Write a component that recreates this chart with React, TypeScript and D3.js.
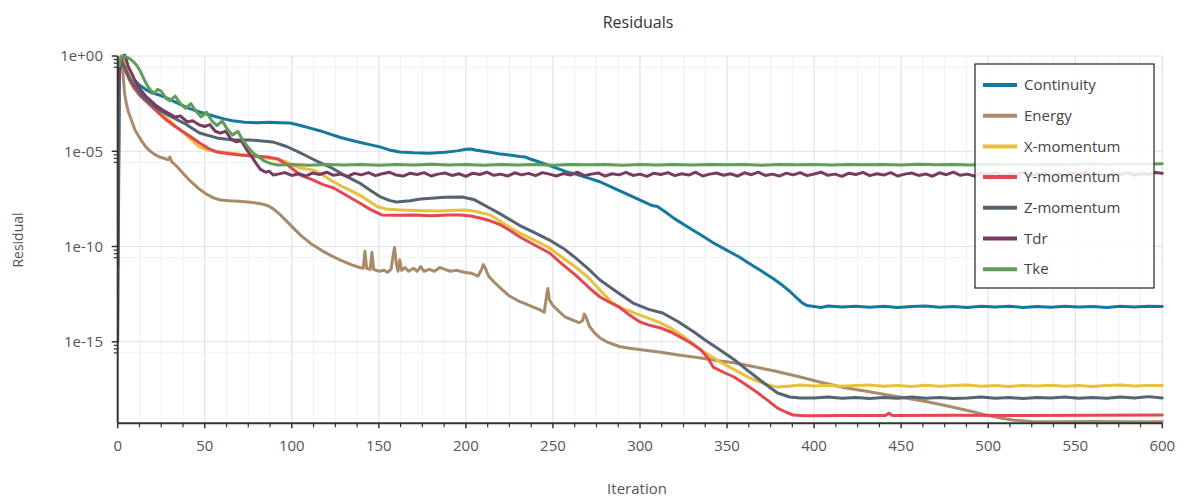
import React from 'react';
import * as d3 from 'd3';

type P = [number, number]; // [iteration, log10(residual)]

const W = 1192;
const H = 497;

const iterTicks = [0, 50, 100, 150, 200, 250, 300, 350, 400, 450, 500, 550, 600];
const iterMinorTicks = [12.5, 25, 37.5, 62.5, 75, 87.5, 112.5, 125, 137.5, 162.5, 175, 187.5, 212.5, 225, 237.5, 262.5, 275, 287.5, 312.5, 325, 337.5, 362.5, 375, 387.5, 412.5, 425, 437.5, 462.5, 475, 487.5, 512.5, 525, 537.5, 562.5, 575, 587.5];
const residualTicks = [1e0, 1e-5, 1e-10, 1e-15];
const residualTickLabels = ['1e+00', '1e-05', '1e-10', '1e-15'];
const residualMinorFactors = [0.65, 0.42, 0.26];

const seriesNames = ['Continuity', 'Energy', 'X-momentum', 'Y-momentum', 'Z-momentum', 'Tdr', 'Tke'];
const seriesColors = ['#15789f', '#a88b6b', '#e9bf3c', '#e1484f', '#566372', '#7a3b63', '#5f9d58'];

const continuity: P[] = [
  [0, -11.1], [1, -0.8], [2, 0], [3, -0.15], [5, -0.5], [7, -0.9], [9, -1.2], [12, -1.5], [16, -1.75], [20, -1.95], [24, -2.05], [28, -2.2], [35, -2.5], [41, -2.75], [47, -2.94], [55, -3.15], [61, -3.3], [66, -3.4], [73, -3.48], [80, -3.5], [87, -3.48], [93, -3.5], [99, -3.52], [105, -3.65], [111, -3.8], [116, -3.92], [122, -4.1], [128, -4.28], [133, -4.4], [140, -4.55], [146, -4.68], [151, -4.78], [156, -4.93], [162, -5.04], [170, -5.08], [179, -5.1], [188, -5.05], [195, -4.98], [200, -4.9], [203, -4.88], [206, -4.95], [210, -5.0], [214, -5.05], [220, -5.15], [225, -5.2], [231, -5.28], [234, -5.3], [236, -5.38], [240, -5.5], [245, -5.65], [250, -5.82], [254, -5.95], [258, -6.08], [263, -6.2], [270, -6.4], [277, -6.6], [284, -6.9], [290, -7.15], [296, -7.4], [302, -7.65], [307, -7.85], [310, -7.9], [314, -8.15], [320, -8.55], [327, -8.95], [335, -9.4], [342, -9.8], [350, -10.2], [357, -10.55], [363, -10.9], [370, -11.3], [376, -11.65], [382, -12.05], [386, -12.35], [390, -12.7], [393, -12.95], [396, -13.1], [400, -13.15], [404, -13.2], [408, -13.12],
  [416, -13.18], [424, -13.13], [432, -13.19], [440, -13.14], [448, -13.2], [456, -13.15], [464, -13.12], [472, -13.19], [480, -13.15], [488, -13.2], [496, -13.14], [504, -13.17], [512, -13.13], [520, -13.2], [528, -13.15], [536, -13.19], [544, -13.13], [552, -13.18], [560, -13.15], [568, -13.2], [576, -13.14], [584, -13.17], [592, -13.13], [600, -13.15],
];

const energy: P[] = [
  [1, -0.2], [2, -0.1], [3, -0.9], [4, -2.0], [5, -2.5], [6, -2.9], [8, -3.4], [10, -3.9], [12, -4.2], [14, -4.5], [16, -4.75], [18, -4.95], [21, -5.15], [24, -5.3], [27, -5.38], [29, -5.45], [30, -5.3], [31, -5.55], [34, -5.8], [37, -6.1], [41, -6.5], [44, -6.75], [47, -7.0], [51, -7.25], [55, -7.45], [59, -7.56], [64, -7.6], [70, -7.62], [76, -7.68], [82, -7.75], [86, -7.85], [89, -8.0], [93, -8.3], [99, -8.85], [105, -9.4], [111, -9.85], [117, -10.2], [122, -10.45], [128, -10.72], [134, -10.95], [139, -11.1], [141, -11.15], [142, -10.25], [143, -11.15], [145, -11.2], [146, -10.3], [147, -11.2], [150, -11.3], [153, -11.25], [155, -11.35], [157, -11.2], [158, -10.6], [159, -10.05], [160, -10.9], [161, -11.3], [162, -10.7], [163, -11.25], [165, -11.1], [167, -11.3], [170, -11.15], [172, -11.3], [174, -11.05], [176, -11.3], [179, -11.2], [182, -11.3], [185, -11.1], [188, -11.2], [191, -11.3], [195, -11.25], [199, -11.35], [203, -11.4], [207, -11.55], [209, -11.2], [210, -10.95], [211, -11.1], [213, -11.55], [216, -11.85], [220, -12.2], [225, -12.6], [230, -12.85], [234, -13.0], [238, -13.15], [242, -13.3], [245, -13.45], [246, -12.8], [247, -12.2], [248, -12.8], [250, -13.1], [254, -13.45], [257, -13.7], [261, -13.85], [265, -14.0], [267, -13.9], [268, -13.55], [269, -13.7], [271, -14.2], [274, -14.55], [277, -14.8], [282, -15.05], [288, -15.25], [295, -15.35], [303, -15.45], [312, -15.55], [322, -15.7], [335, -15.85], [345, -16.0], [354, -16.1], [365, -16.3], [378, -16.55], [392, -16.85], [405, -17.15], [417, -17.4], [430, -17.6], [449, -17.9], [465, -18.15], [478, -18.4], [490, -18.65], [499, -18.85], [507, -19.0], [515, -19.12], [525, -19.18], [540, -19.2], [560, -19.18], [580, -19.2], [600, -19.2],
];

const xMomentum: P[] = [
  [1, -0.2], [2, 0], [3, -0.2], [5, -0.6], [7, -1.0], [10, -1.45], [14, -1.95], [18, -2.4], [23, -2.85], [28, -3.25], [33, -3.65], [38, -4.05], [43, -4.45], [47, -4.78], [52, -4.95], [58, -5.02], [66, -5.1], [75, -5.22], [86, -5.35], [93, -5.45], [97, -5.56], [101, -5.75], [105, -5.88], [112, -5.98], [117, -6.2], [122, -6.5], [130, -6.9], [139, -7.3], [144, -7.6], [149, -7.9], [155, -8.05], [162, -8.08], [175, -8.12], [185, -8.14], [193, -8.1], [200, -8.08], [205, -8.15], [210, -8.25], [214, -8.35], [220, -8.7], [225, -8.98], [231, -9.3], [240, -9.7], [248, -10.08], [255, -10.55], [263, -11.08], [270, -11.6], [277, -12.28], [284, -12.95], [290, -13.25], [300, -13.6], [306, -13.8], [312, -14.02], [318, -14.3], [323, -14.6], [329, -15.0], [335, -15.43], [346, -16.06], [355, -16.5], [363, -16.9], [371, -17.2], [379, -17.38], [385, -17.33], [392, -17.27],
  [400, -17.32], [408, -17.28], [416, -17.34], [424, -17.3], [432, -17.27], [440, -17.33], [448, -17.3], [456, -17.35], [464, -17.28], [472, -17.33], [480, -17.3], [488, -17.27], [496, -17.33], [504, -17.3], [512, -17.35], [520, -17.29], [528, -17.32], [536, -17.28], [544, -17.33], [552, -17.3], [560, -17.35], [568, -17.3], [576, -17.27], [584, -17.32], [592, -17.3], [600, -17.3],
];

const yMomentum: P[] = [
  [1, -0.3], [2, -0.1], [3, -0.4], [5, -0.9], [7, -1.3], [9, -1.63], [13, -2.1], [18.5, -2.57], [23, -2.95], [28, -3.36], [33, -3.7], [38, -4.0], [43, -4.3], [47, -4.57], [52, -4.85], [57, -5.04], [63, -5.12], [70, -5.2], [78, -5.25], [86, -5.3], [92, -5.4], [98, -5.75], [105, -6.25], [112, -6.5], [118, -6.75], [124, -6.93], [131, -7.3], [139, -7.72], [145, -8.05], [152, -8.35], [160, -8.36], [170, -8.35], [180, -8.38], [190, -8.35], [197, -8.35], [203, -8.4], [208, -8.5], [214, -8.65], [220, -8.87], [226, -9.2], [231, -9.5], [240, -9.95], [248, -10.34], [255, -10.9], [263, -11.5], [270, -12.1], [277, -12.65], [282, -12.9], [288, -13.18], [294, -13.6], [300, -13.96], [306, -14.15], [312, -14.28], [318, -14.5], [323, -14.75], [329, -15.05], [335, -15.43], [339, -15.85], [342, -16.33], [348, -16.6], [354, -16.85], [360, -17.2], [367, -17.64], [373, -18.05], [379, -18.48], [384, -18.7], [388, -18.85], [395, -18.88],
  [420, -18.87], [441, -18.87], [443, -18.75], [445, -18.87], [480, -18.86], [520, -18.87], [560, -18.86], [600, -18.85],
];

const zMomentum: P[] = [
  [0, -15.0], [1, -0.4], [2, -0.2], [4, -0.6], [7, -1.2], [10, -1.6], [14, -2.1], [18.5, -2.47], [25, -2.9], [31, -3.2], [38, -3.52], [47, -4.04], [57, -4.3], [66, -4.41], [76, -4.41], [89, -4.51], [97, -4.75], [105, -5.09], [114, -5.5], [122, -5.83], [130, -6.25], [139, -6.67], [145, -7.05], [151, -7.4], [156, -7.58], [160, -7.66], [168, -7.6], [174, -7.51], [188, -7.42], [198, -7.4], [205, -7.55], [212, -7.9], [220, -8.3], [231, -8.9], [240, -9.3], [248, -9.66], [256, -10.1], [263, -10.6], [270, -11.15], [277, -11.76], [287, -12.4], [296, -12.97], [305, -13.3], [313, -13.49], [322, -13.95], [331, -14.49], [338, -14.95], [346, -15.43], [355, -16.0], [363, -16.59], [371, -17.15], [379, -17.69], [386, -17.9], [392, -17.95],
  [400, -17.95], [408, -17.9], [416, -17.97], [424, -17.93], [432, -17.98], [440, -17.92], [448, -17.96], [456, -17.9], [464, -17.97], [472, -17.93], [480, -17.98], [488, -17.95], [496, -17.9], [504, -17.96], [512, -17.93], [520, -17.98], [528, -17.92], [536, -17.95], [544, -17.9], [552, -17.97], [560, -17.93], [568, -17.96], [576, -17.9], [584, -17.95], [592, -17.88], [600, -17.95],
];

const tdr: P[] = [
  [0, -2.3], [1, -0.8], [2, -0.2], [3, 0.0], [4, 0.05], [5, -0.2], [6, -0.55], [8, -0.9], [10, -1.3], [13, -1.75], [16, -2.1], [18.5, -2.3], [22, -2.6], [26, -2.85], [30, -3.05], [33, -3.2], [36, -3.15], [40, -3.46], [43, -3.4], [47, -3.62], [50, -3.7], [53, -3.6], [56, -3.95], [59, -4.05], [62, -3.95], [65, -4.35], [68, -4.5], [71, -4.45], [74, -4.9], [77, -5.3], [80, -5.7], [82, -5.95], [85, -6.1], [87, -6.05], [89.5, -6.25],
  [92, -6.2], [96, -6.12], [100, -6.27], [104, -6.18], [108, -6.3], [112, -6.14], [116, -6.22], [120, -6.1], [124, -6.26], [128, -6.2], [132, -6.32], [136, -6.16], [140, -6.24], [144, -6.12], [148, -6.28], [152, -6.18], [156, -6.1], [160, -6.25], [164, -6.3], [168, -6.15], [172, -6.22], [176, -6.12], [180, -6.3], [184, -6.2], [188, -6.14], [192, -6.27], [196, -6.18], [200, -6.32], [204, -6.15], [208, -6.22], [212, -6.1], [216, -6.26], [220, -6.2], [224, -6.3], [228, -6.13], [232, -6.24], [236, -6.16], [240, -6.28], [244, -6.12], [248, -6.2], [252, -6.3], [256, -6.17], [260, -6.25], [264, -6.1], [268, -6.28], [272, -6.2], [276, -6.14], [280, -6.3], [284, -6.18], [288, -6.24], [292, -6.11], [296, -6.27], [300, -6.2], [304, -6.32], [308, -6.15], [312, -6.22], [316, -6.12], [320, -6.28], [324, -6.18], [328, -6.25], [332, -6.1], [336, -6.3], [340, -6.2], [344, -6.14], [348, -6.26], [352, -6.18], [356, -6.31], [360, -6.13], [364, -6.23], [368, -6.1], [372, -6.27], [376, -6.2], [380, -6.3], [384, -6.15], [388, -6.24], [392, -6.12], [396, -6.28], [400, -6.19], [404, -6.1], [408, -6.26], [412, -6.2], [416, -6.32], [420, -6.15], [424, -6.22], [428, -6.11], [432, -6.28], [436, -6.18], [440, -6.25], [444, -6.12], [448, -6.3], [452, -6.2], [456, -6.14], [460, -6.27], [464, -6.19], [468, -6.31], [472, -6.13], [476, -6.23], [480, -6.1], [484, -6.26], [488, -6.2], [492, -6.3], [496, -6.15], [500, -6.24], [504, -6.12], [508, -6.28], [512, -6.18], [516, -6.25], [520, -6.1], [524, -6.29], [528, -6.2], [532, -6.14], [536, -6.26], [540, -6.18], [544, -6.3], [548, -6.13], [552, -6.22], [556, -6.1], [560, -6.27], [564, -6.2], [568, -6.31], [572, -6.15], [576, -6.23], [580, -6.11], [584, -6.26], [588, -6.18], [592, -6.22], [596, -6.12], [600, -6.16],
];

const tke: P[] = [
  [1, -0.5], [2, -0.05], [3, 0.0], [5, -0.05], [7, -0.15], [9, -0.3], [11, -0.5], [13, -0.8], [15, -1.2], [17, -1.55], [19, -1.8], [21, -1.95], [23, -1.75], [25, -1.85], [28, -2.25], [30, -2.35], [33, -2.1], [36, -2.5], [39, -2.75], [42, -2.5], [45, -2.9], [48, -3.2], [51, -2.95], [54, -3.4], [57, -3.65], [60, -3.4], [63, -3.85], [66, -4.15], [69, -3.95], [72, -4.45], [75, -4.8], [78, -5.1], [81, -5.3], [84, -5.5], [88, -5.65],
  [92, -5.72], [100, -5.7], [110, -5.73], [120, -5.69], [130, -5.72], [140, -5.7], [150, -5.74], [160, -5.7], [170, -5.72], [180, -5.68], [190, -5.72], [200, -5.7], [210, -5.73], [220, -5.69], [230, -5.72], [240, -5.7], [250, -5.73], [260, -5.69], [270, -5.71], [280, -5.7], [290, -5.73], [300, -5.69], [310, -5.72], [320, -5.7], [330, -5.72], [340, -5.69], [350, -5.71], [360, -5.7], [370, -5.73], [380, -5.69], [390, -5.71], [400, -5.7], [410, -5.72], [420, -5.69], [430, -5.71], [440, -5.7], [450, -5.72], [460, -5.68], [470, -5.71], [480, -5.7], [490, -5.72], [500, -5.68], [510, -5.7], [520, -5.69], [530, -5.71], [540, -5.68], [550, -5.7], [560, -5.67], [570, -5.69], [580, -5.66], [590, -5.68], [600, -5.65],
];

const seriesData: P[][] = [continuity, energy, xMomentum, yMomentum, zMomentum, tdr, tke];

const FONT = "'Open Sans', 'Noto Sans', sans-serif";

export default function App() {
  const left = 117.7, right = 1162.3, top = 56, bottom = 423.3;
  const x = d3.scaleLinear().domain([0, 600]).range([left, right]);
  const y = d3.scaleLog().domain([Math.pow(10, -19.28), 1]).range([bottom, top]);
  const line = d3.line<P>().x(d => x(d[0])).y(d => y(Math.pow(10, d[1])));

  const minorY: number[] = [];
  residualTicks.forEach(t => residualMinorFactors.forEach(f => minorY.push(t * f)));

  const legendX = 975, legendY = 64, legendW = 179, legendH = 224;
  const itemY0 = 85, itemStep = 30.7;

  return (
    <svg width={W} height={H} style={{ position: 'absolute', left: 0, top: 0, background: '#fff' }} fontFamily={FONT}>
      <defs>
        <clipPath id="plotClip">
          <rect x={left} y={top - 6} width={right - left + 2} height={bottom - top + 6} />
        </clipPath>
      </defs>
      <rect x={0} y={0} width={W} height={H} fill="#fff" />
      {iterMinorTicks.map(t => (
        <line key={'vm' + t} x1={x(t)} x2={x(t)} y1={top} y2={bottom} stroke="#f1f1f1" strokeWidth={1} />
      ))}
      {iterTicks.map(t => (
        <line key={'vg' + t} x1={x(t)} x2={x(t)} y1={top} y2={bottom} stroke="#e2e2e2" strokeWidth={1.2} />
      ))}
      {residualTicks.map(t => (
        <line key={'hm' + t} x1={left} x2={right} y1={y(t * 0.26)} y2={y(t * 0.26)} stroke="#f0f0f0" strokeWidth={1} />
      ))}
      {residualTicks.map(t => (
        <line key={'hg' + t} x1={left} x2={right} y1={y(t)} y2={y(t)} stroke="#e2e2e2" strokeWidth={1.2} />
      ))}

      <g clipPath="url(#plotClip)">
        {seriesData.map((s, i) => (
          <path key={seriesNames[i]} d={line(s) || ''} fill="none" stroke={seriesColors[i]} strokeWidth={3} strokeLinejoin="round" strokeLinecap="round" />
        ))}
      </g>

      <line x1={left} x2={right} y1={bottom} y2={bottom} stroke="#333" strokeWidth={2} />
      <line x1={left} x2={left} y1={top} y2={bottom} stroke="#333" strokeWidth={2} />
      {iterTicks.map(t => (
        <g key={'xt' + t}>
          <line x1={x(t)} x2={x(t)} y1={bottom} y2={bottom + 5} stroke="#333" strokeWidth={1.5} />
          <text x={x(t)} y={451} textAnchor="middle" fontSize={15} fill="#555">{t}</text>
        </g>
      ))}
      {iterMinorTicks.map(t => (
        <line key={'xmt' + t} x1={x(t)} x2={x(t)} y1={bottom} y2={bottom + 4} stroke="#333" strokeWidth={1.2} />
      ))}
      {residualTicks.map((t, i) => (
        <g key={'yt' + t}>
          <line x1={left - 6} x2={left} y1={y(t)} y2={y(t)} stroke="#333" strokeWidth={1.5} />
          <text x={103} y={y(t)} dy="0.35em" textAnchor="end" fontSize={15} fill="#555">{residualTickLabels[i]}</text>
        </g>
      ))}
      {minorY.map((t, i) => (
        <line key={'ymt' + i} x1={left - 4} x2={left} y1={y(t)} y2={y(t)} stroke="#333" strokeWidth={1.2} />
      ))}

      <text x={638} y={28} textAnchor="middle" fontSize={16} fill="#333">Residuals</text>
      <text x={637} y={494} textAnchor="middle" fontSize={15} fill="#555">Iteration</text>
      <text transform="translate(23,240) rotate(-90)" textAnchor="middle" fontSize={14} fill="#555">Residual</text>

      <rect x={legendX} y={legendY} width={legendW} height={legendH} fill="#fff" fillOpacity={0.86} stroke="#222" strokeWidth={1.2} />
      {seriesNames.map((n, i) => (
        <g key={'lg' + n}>
          <line x1={983} x2={1017} y1={itemY0 + i * itemStep} y2={itemY0 + i * itemStep} stroke={seriesColors[i]} strokeWidth={4} />
          <text x={1024} y={itemY0 + i * itemStep} dy="0.35em" fontSize={15} fill="#444">{n}</text>
        </g>
      ))}
    </svg>
  );
}
